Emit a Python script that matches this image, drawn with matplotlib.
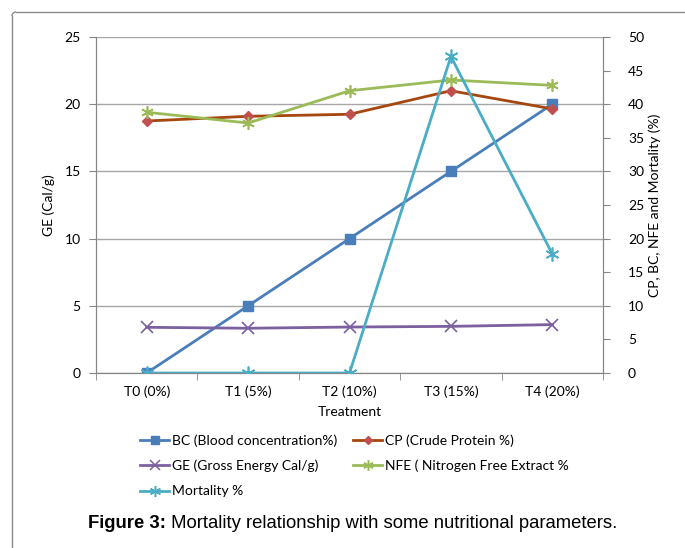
import matplotlib
matplotlib.use("Agg")
import matplotlib.pyplot as plt
from matplotlib.lines import Line2D
from matplotlib.patches import Arc

categories = ["T0 (0%)", "T1 (5%)", "T2 (10%)", "T3 (15%)", "T4 (20%)"]
bc = [0, 5, 10, 15, 20]                 # left axis
ge = [3.40, 3.33, 3.42, 3.47, 3.60]     # left axis
cp = [37.5, 38.2, 38.5, 42.0, 39.3]     # right axis
nfe = [38.8, 37.2, 42.0, 43.6, 42.8]    # right axis
mortality = [0, 0, 0, 47.1, 17.7]       # right axis

left_ticks = [0, 5, 10, 15, 20, 25]
right_ticks = [0, 5, 10, 15, 20, 25, 30, 35, 40, 45, 50]

FONT = ["Lato", "DejaVu Sans"]
plt.rcParams['font.family'] = FONT

c_bc = "#4A7EBB"
c_cp_line = "#A5470E"
c_cp_mark = "#C0504D"
c_ge = "#7D60A0"
c_nfe = "#9BBB59"
c_mort = "#4BACC6"
grid_c = "#A6A6A6"
spine_c = "#868686"

fig = plt.figure(figsize=(6.85, 5.48), dpi=100)
# outer frame
fig.lines.append(Line2D([12/685, 12/685], [0, 1 - 16/548], transform=fig.transFigure, color="#8C8C8C", lw=1))
fig.lines.append(Line2D([16/685, 1], [1 - 12/548, 1 - 12/548], transform=fig.transFigure, color="#8C8C8C", lw=1))
arc = Arc((16/685, 1 - 16/548), 8/685, 8/548, theta1=90, theta2=180, transform=fig.transFigure, color="#8C8C8C", lw=1)
fig.patches.append(arc)

ax = fig.add_axes([96/685, 1 - 373/548, 507/685, 336/548])
ax2 = ax.twinx()

x = list(range(len(categories)))
lw = 2.0
ax.plot(x, bc, color=c_bc, lw=lw, marker="s", ms=6.5, mfc=c_bc, mec=c_bc, zorder=3)
ax.plot(x, ge, color=c_ge, lw=lw, marker="x", ms=8, mew=1.2, mec=c_ge, zorder=3)
ax2.plot(x, cp, color=c_cp_line, lw=lw, marker="D", ms=5.5, mfc=c_cp_mark, mec=c_cp_mark, zorder=3)
ax2.plot(x, nfe, color=c_nfe, lw=lw, marker=(6, 2, 0), ms=9, mew=1.2, mec=c_nfe, zorder=3)
ax2.plot(x, mortality, color=c_mort, lw=lw, marker=(6, 2, 0), ms=10, mew=1.2, mec=c_mort, zorder=3)

ax.set_xlim(-0.5, len(categories) - 0.5)
ax.set_ylim(0, 25)
ax2.set_ylim(0, 50)
ax.set_yticks(left_ticks)
ax2.set_yticks(right_ticks)
ax.set_xticks(x)
ax.set_xticklabels(categories, fontsize=10)
ax.set_xticks([i + 0.5 for i in range(-1, len(categories))], minor=True)
ax.tick_params(axis="x", which="major", length=0, pad=9)
ax.tick_params(axis="x", which="minor", length=5, color=spine_c, direction="out")
ax.tick_params(axis="y", length=5, color=spine_c, labelsize=10, pad=6)
ax2.tick_params(axis="y", length=5, color=spine_c, labelsize=10, pad=13)
for t in ax.get_yticklabels() + ax2.get_yticklabels() + ax.get_xticklabels():
    t.set_color("#000000")

ax.grid(axis="y", color=grid_c, lw=1)
ax.set_axisbelow(True)
for a in (ax, ax2):
    for s in a.spines.values():
        s.set_color(spine_c)
    a.spines["top"].set_visible(False)

ax.set_ylabel("GE (Cal/g)", fontsize=10, labelpad=7)
ax2.set_ylabel("CP, BC, NFE and Mortality (%)", fontsize=10, labelpad=3)
ax.set_xlabel("Treatment", fontsize=10, labelpad=6)

# legend (two columns, row-wise order)
h_bc = Line2D([], [], color=c_bc, lw=lw, marker="s", ms=5.5, mfc=c_bc, mec=c_bc)
h_cp = Line2D([], [], color=c_cp_line, lw=lw, marker="D", ms=4.5, mfc=c_cp_mark, mec=c_cp_mark)
h_ge = Line2D([], [], color=c_ge, lw=lw, marker="x", ms=7, mew=1.1, mec=c_ge)
h_nfe = Line2D([], [], color=c_nfe, lw=lw, marker=(6, 2, 0), ms=7.5, mew=1.1, mec=c_nfe)
h_mort = Line2D([], [], color=c_mort, lw=lw, marker=(6, 2, 0), ms=8, mew=1.1, mec=c_mort)
leg_kw = dict(frameon=False, fontsize=10, handlelength=2.1, handletextpad=0.2,
              labelspacing=0.95, borderpad=0, borderaxespad=0, loc="upper left")
l1 = fig.legend([h_bc, h_ge, h_mort],
                ["BC (Blood concentration%)", "GE (Gross Energy Cal/g)", "Mortality %"],
                bbox_to_anchor=(140/685, 1 - 434/548), **leg_kw)
l2 = fig.legend([h_cp, h_nfe],
                ["CP (Crude Protein %)", "NFE ( Nitrogen Free Extract %"],
                bbox_to_anchor=(353/685, 1 - 434/548), **leg_kw)

# caption with bold prefix
fig.canvas.draw()
r = fig.canvas.get_renderer()
cap_y = 1 - 524/548
t1 = fig.text(0, cap_y, "Figure 3:", fontsize=13.3, fontweight="bold",
              family=["Liberation Sans", "DejaVu Sans"], va="center", ha="left")
t2 = fig.text(0, cap_y, " Mortality relationship with some nutritional parameters.", fontsize=13.3,
              family=["Liberation Sans", "DejaVu Sans"], va="center", ha="left")
w1 = t1.get_window_extent(r).width
start = 88
t1.set_x(start / 685)
t2.set_x((start + w1) / 685)

fig.savefig("out.png", dpi=100)
